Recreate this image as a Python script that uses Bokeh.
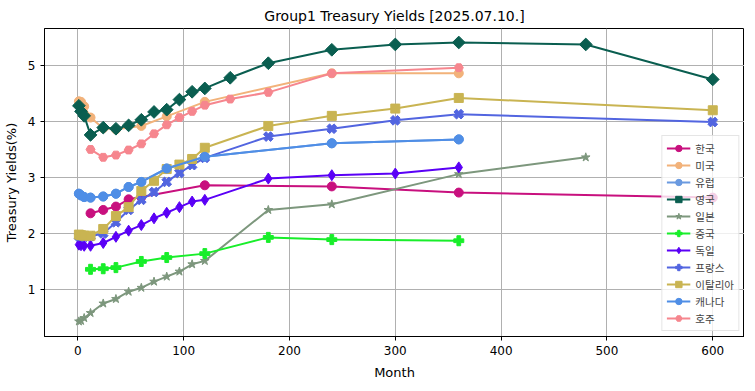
import numpy as np
from bokeh.plotting import figure
from bokeh.models import Range1d, Legend, LegendItem, FixedTicker
from bokeh.embed import file_html
from bokeh.resources import INLINE

# ---- data (months, yield %) ----
kr_m = [12, 24, 36, 48, 60, 120, 240, 360, 600]
kr_y = [2.36, 2.42, 2.48, 2.61, 2.65, 2.86, 2.84, 2.73, 2.64]

us_m = [1, 3, 6, 12, 24, 36, 60, 84, 120, 240, 360]
us_y = [4.36, 4.35, 4.27, 4.07, 3.88, 3.86, 3.92, 4.09, 4.35, 4.86, 4.86]

eu_m = [1, 3, 6, 12, 24, 36, 48, 60, 84, 120, 240, 360]
eu_y = [2.71, 2.68, 2.65, 2.64, 2.66, 2.71, 2.83, 2.92, 3.16, 3.37, 3.61, 3.68]

uk_m = [1, 3, 6, 12, 24, 36, 48, 60, 72, 84, 96, 108, 120, 144, 180, 240, 300, 360, 480, 600]
uk_y = [4.28, 4.18, 4.10, 3.76, 3.89, 3.87, 3.93, 4.03, 4.17, 4.21, 4.39, 4.53, 4.59, 4.78, 5.04, 5.28, 5.375, 5.41, 5.375, 4.75]

jp_m = [1, 3, 6, 12, 24, 36, 48, 60, 72, 84, 96, 108, 120, 180, 240, 360, 480]
jp_y = [0.43, 0.44, 0.49, 0.58, 0.75, 0.83, 0.96, 1.03, 1.14, 1.23, 1.32, 1.45, 1.51, 2.42, 2.52, 3.06, 3.36]

cn_m = [12, 24, 36, 60, 84, 120, 180, 240, 360]
cn_y = [1.36, 1.37, 1.39, 1.50, 1.57, 1.64, 1.93, 1.89, 1.87]

de_m = [1, 3, 6, 12, 24, 36, 48, 60, 72, 84, 96, 108, 120, 180, 240, 300, 360]
de_y = [1.80, 1.79, 1.78, 1.78, 1.83, 1.94, 2.05, 2.15, 2.27, 2.37, 2.47, 2.57, 2.60, 2.98, 3.04, 3.07, 3.18]

fr_m = [1, 3, 6, 12, 24, 36, 48, 60, 72, 84, 96, 108, 120, 180, 240, 300, 360, 600]
fr_y = [1.95, 1.95, 1.94, 1.95, 2.00, 2.20, 2.42, 2.60, 2.74, 2.92, 3.08, 3.22, 3.35, 3.73, 3.87, 4.02, 4.13, 3.99]

it_m = [1, 3, 6, 12, 24, 36, 48, 60, 72, 84, 96, 108, 120, 180, 240, 300, 360, 600]
it_y = [1.98, 1.97, 1.96, 1.96, 2.08, 2.31, 2.47, 2.76, 2.94, 3.15, 3.23, 3.33, 3.53, 3.92, 4.10, 4.23, 4.42, 4.20]

ca_m = [1, 3, 6, 12, 24, 36, 48, 60, 84, 120, 240, 360]
ca_y = [2.71, 2.68, 2.65, 2.64, 2.66, 2.71, 2.83, 2.92, 3.16, 3.37, 3.61, 3.68]

au_m = [12, 24, 36, 48, 60, 72, 84, 96, 108, 120, 144, 180, 240, 360]
au_y = [3.50, 3.36, 3.40, 3.49, 3.60, 3.78, 3.94, 4.07, 4.18, 4.29, 4.40, 4.52, 4.86, 4.96]

names = ["한국", "미국", "유럽", "영국", "일본", "중국", "독일", "프랑스", "이탈리아", "캐나다", "호주"]
x_ticks = [0, 100, 200, 300, 400, 500, 600]
y_ticks = [1, 2, 3, 4, 5]

series = [
    (kr_m, kr_y, "#c8107e", "circle", 9, 0),
    (us_m, us_y, "#f2b27a", "circle", 9, 0),
    (eu_m, eu_y, "#6a9ae0", "circle", 9, 0),
    (uk_m, uk_y, "#0a5e50", "square", 9, np.pi / 4),
    (jp_m, jp_y, "#7d977d", "star", 9, 0),
    (cn_m, cn_y, "#18ee2a", "plus", 10, 0),
    (de_m, de_y, "#5a00f6", "diamond", 11, 0),
    (fr_m, fr_y, "#5265e0", "plus", 10, np.pi / 4),
    (it_m, it_y, "#c9b452", "square", 9, 0),
    (ca_m, ca_y, "#4f8ee6", "circle", 9, 0),
    (au_m, au_y, "#f6868e", "hex", 9, 0),
]

p = figure(frame_width=700, frame_height=308, output_backend="svg", toolbar_location=None,
           x_range=Range1d(-31.5, 630), y_range=Range1d(0.16, 5.66),
           min_border_left=40, min_border_right=0, min_border_top=24, min_border_bottom=43,
           title="Group1 Treasury Yields [2025.07.10.]")

p.title.align = "center"
p.title.text_font = "DejaVu Sans"
p.title.text_font_size = "14px"
p.title.text_font_style = "normal"
p.title.text_color = "black"

p.outline_line_color = "black"
p.outline_line_width = 1
p.outline_line_alpha = 1

for ax in (p.xaxis, p.yaxis):
    ax.axis_line_color = "black"
    ax.major_tick_line_color = "black"
    ax.minor_tick_line_color = None
    ax.major_tick_out = 4
    ax.major_tick_in = 0
    ax.major_label_text_font = "DejaVu Sans"
    ax.major_label_text_font_size = "12px"
    ax.major_label_text_color = "black"
    ax.axis_label_text_font = "DejaVu Sans"
    ax.axis_label_text_font_size = "13px"
    ax.axis_label_text_font_style = "normal"
    ax.axis_label_text_color = "black"

p.xaxis.ticker = FixedTicker(ticks=x_ticks)
p.yaxis.ticker = FixedTicker(ticks=y_ticks)
p.xaxis.axis_label = "Month"
p.yaxis.axis_label = "Treasury Yields(%)"
p.xaxis.axis_label_standoff = 7
p.yaxis.axis_label_standoff = 6

p.grid.grid_line_color = "#b0b0b0"
p.grid.grid_line_width = 1

items = []
for (m, y, c, mk, sz, ang), nm in zip(series, names):
    ln = p.line(m, y, line_color=c, line_width=2)
    sc = p.scatter(m, y, marker=mk, size=sz, angle=ang, fill_color=c, line_color=c)
    items.append(LegendItem(label=nm, renderers=[ln, sc]))

legend = Legend(items=items, location="bottom_right")
legend.label_text_font = "Noto Sans CJK KR"
legend.label_text_font_size = "10.5px"
legend.glyph_width = 24
legend.glyph_height = 16
legend.label_height = 16
legend.spacing = 1
legend.padding = 4
legend.margin = 5
legend.border_line_color = "#cccccc"
legend.background_fill_alpha = 0.8
p.add_layout(legend)

open("out.html", "w").write(file_html(p, INLINE))
